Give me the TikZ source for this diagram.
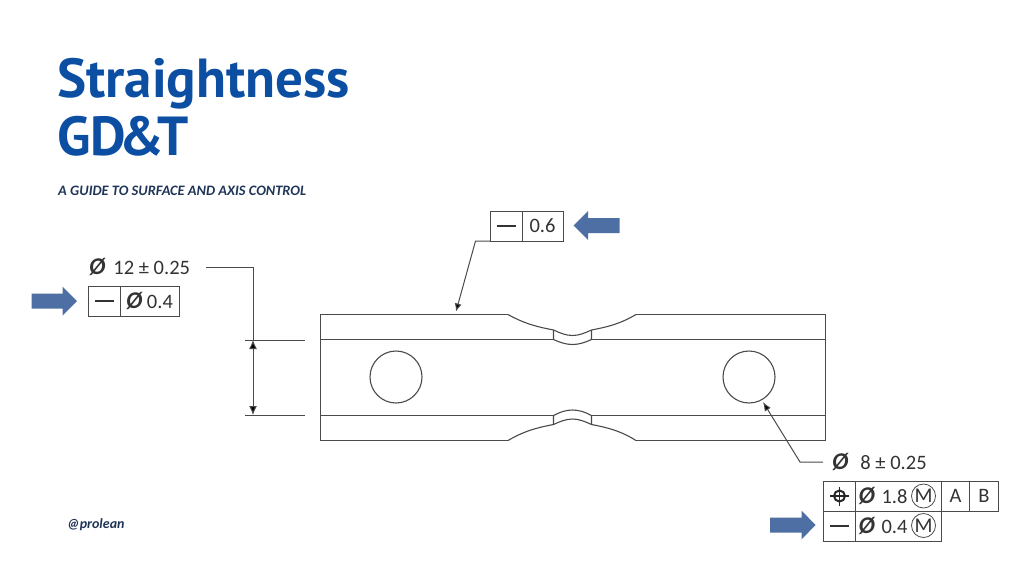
\documentclass[tikz,border=0pt]{standalone}
\usepackage{fontspec}
\setmainfont{Carlito}
\newfontfamily\titlefont{PT Sans}
\usetikzlibrary{arrows.meta}
\definecolor{titleblue}{HTML}{0B4EA2}
\definecolor{darknavy}{HTML}{1F3558}
\definecolor{arrowblue}{HTML}{4E6FA3}
\definecolor{inkgray}{HTML}{4A4A4A}
\newcommand{\dia}{{\fontsize{24}{24}\selectfont\bfseries\itshape Ø}}
\newcommand{\strt}{\rule{19pt}{2pt}}
\tikzset{
    cell/.style={draw=inkgray, line width=1pt, anchor=north west, inner sep=0pt, outer sep=0pt, text=black!80,
        font=\fontsize{20.5}{22}\selectfont, align=center},
    dimtext/.style={anchor=west, inner sep=0pt, text=black!80, font=\fontsize{20.5}{22}\selectfont},
    leader/.style={draw=inkgray, line width=1pt},
    outline/.style={draw=inkgray, line width=1.1pt},
    bigarrow/.style={fill=arrowblue, draw=none},
    modcircle/.style={circle, draw=inkgray, line width=0.8pt, minimum size=24pt, inner sep=0pt,
        text=black!80, font=\fontsize{21}{22}\selectfont},
}

\begin{document}
\begin{tikzpicture}[x=1pt, y=-1pt]
    \useasboundingbox (0,0) rectangle (1024,576);

    % heading
    \node[anchor=base west, inner sep=0pt, text=titleblue, font=\titlefont\bfseries\fontsize{55}{55}\selectfont] (titleA) at (57,97) {Straightness};
    \node[anchor=base west, inner sep=0pt, text=titleblue, font=\titlefont\bfseries\fontsize{55}{55}\selectfont] (titleB) at (57,155) {GD\kern-7pt\&\kern-7pt T};
    \node[anchor=west, inner sep=0pt, text=darknavy, font=\bfseries\itshape\fontsize{14.4}{14}\selectfont] (subtitle) at (58,191) {A GUIDE TO SURFACE AND AXIS CONTROL};
    \node[anchor=west, inner sep=0pt, text=darknavy, font=\bfseries\itshape\fontsize{14}{14}\selectfont] (handle) at (67,525) {@prolean};

    % part outline
    \draw[outline] (508,314.5) -- (320.5,314.5) -- (320.5,440.5) -- (508,440.5);
    \draw[outline] (636,314.5) -- (825.5,314.5) -- (825.5,440.5) -- (636,440.5);
    \draw[outline] (320.5,339.5) -- (553.5,339.5);
    \draw[outline] (591.5,339.5) -- (825.5,339.5);
    \draw[outline] (320.5,415.5) -- (553.5,415.5);
    \draw[outline] (591.5,415.5) -- (825.5,415.5);

    % upper neck
    \draw[outline] (508,314.5) .. controls (525,324) and (538,327) .. (553.5,330)
        .. controls (560,333) and (566,335.5) .. (572.5,335.5)
        .. controls (579,335.5) and (585,333) .. (591.5,330)
        .. controls (607,327) and (620,324) .. (636,314.5);
    \draw[outline] (553.5,330) -- (553.5,339.5)
        .. controls (560,342.5) and (566,344.5) .. (572.5,344.5)
        .. controls (579,344.5) and (585,342.5) .. (591.5,339.5) -- (591.5,330);

    % lower neck
    \draw[outline] (508,440.5) .. controls (525,430.5) and (538,427.5) .. (553.5,424.5)
        .. controls (560,421.5) and (566,419) .. (572.5,419)
        .. controls (579,419) and (585,421.5) .. (591.5,424.5)
        .. controls (607,427.5) and (620,430.5) .. (636,440.5);
    \draw[outline] (553.5,424.5) -- (553.5,415.5)
        .. controls (560,412) and (566,410) .. (572.5,410)
        .. controls (579,410) and (585,412) .. (591.5,415.5) -- (591.5,424.5);

    % holes
    \node[circle, outline, minimum size=52pt, inner sep=0pt] (holeL) at (396,377) {};
    \node[circle, outline, minimum size=52pt, inner sep=0pt] (holeR) at (749,377) {};

    % top frame
    \node[cell, minimum width=32pt, minimum height=30pt] (topA) at (490,211) {\strt};
    \node[cell, minimum width=41pt, minimum height=30pt] (topB) at (topA.north east) {0.6};
    \coordinate (topBend) at (475.5,241);
    \coordinate (topTip) at (456,311.5);
    \draw[leader, -{Latex[length=8pt,width=7pt,fill=black]}] (topA.south west) -- (topBend) -- (topTip);
    \fill[bigarrow] (573.5,225.5) -- (588,211) -- (588,218) -- (619.5,218) -- (619.5,233) -- (588,233) -- (588,240) -- cycle;

    % left callout
    \node[dimtext] (leftDim) at (89,267) {\dia\hspace{8pt}12 ± 0.25};
    \node[cell, minimum width=32pt, minimum height=30pt] (leftA) at (88,286) {\strt};
    \node[cell, minimum width=59pt, minimum height=30pt] (leftB) at (leftA.north east) {\dia\ 0.4};
    \fill[bigarrow] (31.5,293.5) -- (62.5,293.5) -- (62.5,286.5) -- (77,301) -- (62.5,315.5) -- (62.5,308.5) -- (31.5,308.5) -- cycle;

    % dimension
    \coordinate (dimStart) at (206,267);
    \coordinate (dimCorner) at (253,267);
    \coordinate (dimTop) at (253,340);
    \coordinate (dimBot) at (253,415);
    \coordinate (extTopL) at (245,340);
    \coordinate (extTopR) at (305,340);
    \coordinate (extBotL) at (245,415);
    \coordinate (extBotR) at (305,415);
    \draw[leader] (dimStart) -- (dimCorner) -- (dimTop);
    \draw[leader] (extTopL) -- (extTopR);
    \draw[leader] (extBotL) -- (extBotR);
    \draw[leader, {Latex[length=9pt,width=8pt,fill=black]}-{Latex[length=9pt,width=8pt,fill=black]}] (dimTop) -- (dimBot);

    % right callout
    \node[dimtext] (rightDim) at (832,462) {\dia\hspace{12pt}8 ± 0.25};
    \coordinate (rightStart) at (823,462);
    \coordinate (rightBend) at (800,462);
    \coordinate (rightTip) at (763,402);
    \draw[leader, -{Latex[length=9pt,width=7pt,fill=black]}] (rightStart) -- (rightBend) -- (rightTip);

    \node[cell, minimum width=32pt, minimum height=30pt] (posA) at (823.5,481) {};
    \draw[line width=2pt, black!85] (posA.center) circle (5.5pt);
    \draw[line width=1.6pt, black!85] ([xshift=-9.5pt]posA.center) -- ([xshift=9.5pt]posA.center);
    \draw[line width=1.6pt, black!85] ([yshift=-9.5pt]posA.center) -- ([yshift=9.5pt]posA.center);
    \node[cell, minimum width=86pt, minimum height=30pt, text width=80pt, align=left] (posB) at (posA.north east) {\dia\ 1.8};
    \node[cell, minimum width=28pt, minimum height=30pt] (posC) at (posB.north east) {A};
    \node[cell, minimum width=29pt, minimum height=30pt] (posD) at (posC.north east) {B};
    \node[cell, minimum width=32pt, minimum height=30.5pt] (strA) at (posA.south west) {\strt};
    \node[cell, minimum width=86pt, minimum height=30.5pt, text width=80pt, align=left] (strB) at (strA.north east) {\dia\ 0.4};
    \node[modcircle] (modA) at (923.5,496) {M};
    \node[modcircle] (modB) at (923.5,525.5) {M};
    \fill[bigarrow] (770,517.5) -- (801.5,517.5) -- (801.5,510.5) -- (815.5,525) -- (801.5,539.5) -- (801.5,532.5) -- (770,532.5) -- cycle;
\end{tikzpicture}
\end{document}
